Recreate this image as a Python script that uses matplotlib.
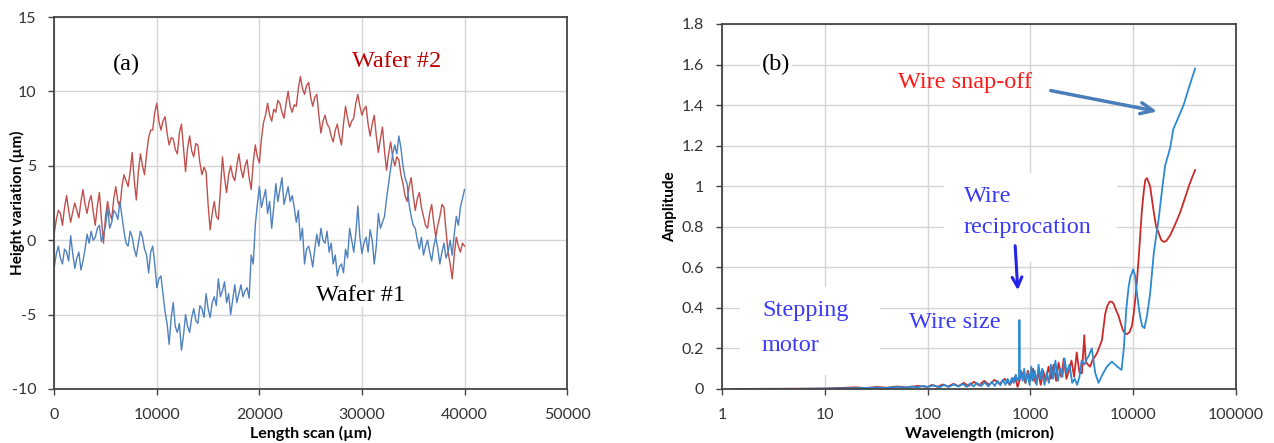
import matplotlib
matplotlib.use('Agg')
import matplotlib.pyplot as plt
from matplotlib.patches import Rectangle
from matplotlib.ticker import FixedLocator, FuncFormatter, NullLocator
import numpy as np

plt.rcParams['axes.unicode_minus'] = False
plt.rcParams['font.family'] = ['Lato', 'DejaVu Sans']

# ---- panel (a): height profiles, sampled every 200 um ----
scan_step = 200
wafer2 = [0.5, 1.4, 2.0, 1.8, 1.0, 2.2, 3.0, 2.0, 1.2, 1.9, 2.5, 2.0, 1.5, 2.6, 3.4, 2.4,
          1.8, 2.6, 3.0, 1.9, 1.0, 2.3, 3.2, 1.4, -0.2, 1.6, 2.6, 1.8, 1.4, 2.8, 3.6, 2.6,
          2.2, 3.6, 4.4, 4.0, 3.6, 4.6, 5.9, 4.0, 2.7, 4.6, 5.8, 5.0, 4.4, 5.8, 6.9, 7.4,
          7.4, 8.6, 9.2, 8.0, 7.4, 8.0, 8.3, 7.2, 6.4, 6.9, 6.8, 6.1, 5.8, 7.2, 7.8, 6.2,
          4.6, 6.2, 7.0, 6.0, 5.6, 6.5, 6.4, 5.2, 4.4, 4.9, 4.6, 2.4, 0.7, 1.8, 2.6, 1.6,
          1.4, 3.4, 5.6, 4.2, 3.2, 4.4, 5.0, 4.3, 4.0, 5.0, 5.8, 4.8, 4.2, 5.0, 5.4, 4.2,
          3.4, 5.2, 6.4, 5.6, 5.2, 6.8, 7.9, 8.4, 9.2, 8.4, 8.0, 8.8, 8.6, 9.4, 9.2, 8.6,
          8.2, 9.2, 10.0, 9.0, 8.6, 9.1, 9.0, 10.2, 11.0, 10.2, 9.8, 10.4, 10.6, 9.6, 9.0, 9.6,
          9.8, 8.4, 7.2, 8.0, 8.4, 7.8, 7.6, 7.0, 6.6, 7.4, 7.8, 7.0, 6.4, 7.8, 9.0, 8.2,
          7.6, 8.0, 8.2, 9.2, 9.8, 9.0, 8.4, 8.8, 9.0, 7.8, 7.0, 7.8, 8.4, 7.0, 5.9, 6.8,
          7.6, 6.0, 4.7, 5.8, 6.6, 5.6, 5.0, 5.6, 5.4, 4.4, 3.8, 3.0, 2.6, 3.6, 4.2, 3.0,
          2.0, 2.8, 3.2, 2.2, 1.6, 1.0, 0.8, 1.8, 2.4, 1.2, 0.2, 1.0, 1.6, 2.4, 2.2, 0.6,
          -0.8, -1.6, -2.6, -1.0, 0.2, -0.4, -0.8, -0.2, -0.4]
wafer1 = [-1.8, -0.9, -0.4, -1.2, -1.6, -0.6, -0.8, -1.4, 0.3, -0.9, -1.9, -1.2, -0.8, -2.0,
          -1.4, -0.6, 0.4, -0.2, 0.6, 0.0, 0.2, 0.8, 1.0, -0.1, 0.4, 1.0, 2.2, 0.8, 1.2, 2.0,
          1.8, 1.4, 2.6, 1.6, 0.6, -0.2, -0.4, 0.6, 0.2, -0.6, -1.1, -0.2, 0.6, 0.2, -0.6,
          -1.0, -2.2, -0.8, -0.4, -1.6, -3.2, -2.6, -2.4, -3.6, -4.8, -5.6, -7.0, -5.2, -4.2,
          -5.8, -6.2, -5.6, -7.4, -6.4, -5.0, -5.8, -6.2, -5.2, -4.6, -5.4, -5.6, -4.4, -4.6,
          -5.2, -3.6, -4.6, -5.2, -4.2, -3.8, -4.4, -2.6, -3.8, -3.4, -2.8, -4.2, -3.6, -5.0,
          -4.0, -3.0, -4.2, -3.6, -3.0, -3.8, -3.4, -3.2, -3.9, -1.0, -1.6, 1.0, 2.4, 3.6,
          2.2, 2.8, 3.4, 1.8, 2.6, 0.8, 2.2, 3.8, 2.6, 3.4, 4.2, 2.4, 3.0, 3.6, 2.6, 3.0, 2.2,
          1.2, 2.0, 0.0, 0.8, -1.6, -0.6, -0.4, -1.0, -1.8, -0.6, 0.4, -0.4, 0.8, 0.0, -0.2,
          0.6, -0.8, -0.2, -1.6, -1.0, -2.4, -1.8, -1.6, -2.2, -0.6, -1.2, 0.8, 0.0, -0.8,
          0.4, 2.3, 0.2, -0.9, -0.2, 0.2, -0.8, 0.7, 0.0, -1.6, -0.4, 1.8, 0.8, 1.2, 1.6, 2.8,
          3.8, 4.8, 5.8, 6.4, 5.8, 7.0, 6.2, 5.0, 4.2, 3.8, 2.4, 1.6, 1.0, 0.8, 0.0, -0.6,
          0.2, -1.0, -0.4, 0.0, -0.8, -1.4, -0.4, 0.2, -0.6, -1.6, -0.8, -0.2, -1.2, -0.8,
          0.0, -1.0, 0.4, 1.6, 1.0, 2.2, 2.8, 3.4]
scan_x = np.arange(len(wafer2)) * scan_step

# ---- panel (b): amplitude spectra ----
wl_blue = [1.3, 5, 10, 20, 30, 40, 50, 60, 70, 80, 90, 100, 115, 130, 145, 160, 180, 200,
           220, 240, 260, 280, 300, 330, 360, 390, 420, 450, 480, 510, 540, 570, 600, 630,
           660, 690, 720, 750, 775, 782, 790, 810, 840, 870, 900, 940, 980, 1020, 1060,
           1100, 1150, 1200, 1250, 1300, 1370, 1440, 1510, 1580, 1660, 1750, 1850, 1950,
           2050, 2150, 2250, 2400, 2550, 2700, 2850, 3000, 3150, 3350, 3550, 3670, 3950,
           4280, 4600, 5000, 5550, 6200, 7000, 7700, 8100, 8550, 9000, 9350, 10000, 10400,
           10700, 11200, 11650, 12200, 12850, 13600, 14600, 15850, 17000, 17600, 19050,
           20400, 22900, 24500, 30900, 35000, 40000]
amp_blue = [0, 0.0, 0.002, 0.004, 0.006, 0.005, 0.01, 0.006, 0.012, 0.008, 0.015, 0.01,
            0.018, 0.008, 0.02, 0.01, 0.022, 0.012, 0.025, 0.01, 0.028, 0.012, 0.03, 0.014,
            0.032, 0.012, 0.035, 0.015, 0.04, 0.018, 0.045, 0.02, 0.05, 0.022, 0.055, 0.03,
            0.07, 0.04, 0.06, 0.34, 0.05, 0.09, 0.04, 0.1, 0.03, 0.08, 0.02, 0.11, 0.04,
            0.09, 0.02, 0.12, 0.05, 0.1, 0.02, 0.08, 0.03, 0.12, 0.05, 0.14, 0.04, 0.1,
            0.06, 0.15, 0.08, 0.12, 0.03, 0.05, 0.02, 0.06, 0.14, 0.12, 0.15, 0.16, 0.2,
            0.077, 0.03, 0.07, 0.11, 0.135, 0.11, 0.094, 0.2, 0.39, 0.5, 0.55, 0.59, 0.56,
            0.5, 0.42, 0.36, 0.31, 0.30, 0.36, 0.47, 0.67, 0.78, 0.83, 0.98,
            1.10, 1.19, 1.28, 1.40, 1.49, 1.58]

wl_red = [1.3, 10, 20, 25, 32, 40, 50, 63, 80, 100, 110, 125, 140, 158, 178, 200, 224, 251,
          282, 316, 355, 398, 447, 501, 562, 631, 708, 750, 794, 840, 891, 944, 1000, 1060,
          1120, 1190, 1260, 1330, 1410, 1500, 1580, 1680, 1780, 1880, 2000, 2110, 2240,
          2370, 2510, 2660, 2820, 3000, 3170, 3340, 3450, 3540, 3810, 4000, 4430, 4960,
          5340, 5600, 5890, 6200, 6440, 6800, 7200, 7600, 7940, 8300, 8680, 9200, 9700,
          10100, 10450, 10850, 11270, 11700, 12140, 12700, 13100, 13600, 14600, 15760,
          16700, 17650, 18700, 19800, 21000, 23000, 25500, 28600, 31800, 35300, 40000]
amp_red = [0, 0.002, 0.008, 0.004, 0.01, 0.006, 0.012, 0.008, 0.015, 0.01, 0.02, 0.01,
           0.022, 0.012, 0.025, 0.014, 0.03, 0.015, 0.035, 0.018, 0.04, 0.02, 0.045, 0.025,
           0.05, 0.02, 0.06, 0.01, 0.05, 0.08, 0.03, 0.09, 0.04, 0.1, 0.03, 0.08, 0.02,
           0.09, 0.04, 0.11, 0.05, 0.12, 0.04, 0.13, 0.06, 0.15, 0.05, 0.09, 0.14, 0.06,
           0.18, 0.08, 0.077, 0.265, 0.14, 0.126, 0.11, 0.14, 0.175, 0.24,
           0.37, 0.41, 0.43, 0.43, 0.42, 0.39, 0.36, 0.32, 0.29, 0.275, 0.27, 0.28, 0.31,
           0.37, 0.44, 0.53, 0.635, 0.76, 0.88, 0.98, 1.03, 1.04, 1.0, 0.88,
           0.80, 0.77, 0.735, 0.725, 0.73, 0.76, 0.81, 0.87, 0.94, 1.01, 1.08]

tick_col = '#333333'
grid_col = '#d4d4d4'
spine_col = '#444444'
serif = ['Liberation Serif', 'DejaVu Serif']
note_blue = '#3a3af5'

fig = plt.figure(figsize=(12.74, 4.43), dpi=100)
ax1 = fig.add_axes([0.0426, 0.122, 0.4025, 0.8396])
ax2 = fig.add_axes([0.5667, 0.122, 0.4035, 0.8239])

for ax in (ax1, ax2):
    ax.set_axisbelow(True)
    ax.grid(True, color=grid_col, linewidth=1.0)
    for s in ax.spines.values():
        s.set_color(spine_col)
        s.set_linewidth(1.3)
    ax.tick_params(direction='out', length=4, width=1, color=spine_col,
                   labelsize=11.5, labelcolor=tick_col)
    ax.tick_params(axis='y', pad=9)
    ax.tick_params(axis='x', pad=10)

# panel (a)
ax1.plot(scan_x, wafer2, color='#c0504d', linewidth=1.0)
ax1.plot(scan_x, wafer1, color='#4f81bd', linewidth=1.0)
ax1.set_xlim(0, 50000)
ax1.set_ylim(-10, 15)
ax1.set_xticks(range(0, 50001, 10000))
ax1.set_yticks(range(-10, 16, 5))
ax1.set_xlabel('Length scan (µm)', fontsize=11.5, fontweight='bold')
ax1.set_ylabel('Height variation (µm)', fontsize=11, fontweight='bold')
ax1.xaxis.set_label_coords(0.5, -0.10)
ax1.yaxis.set_label_coords(-0.057, 0.5)
ax1.text(7080, 11.8, '(a)', fontsize=17.5, family=serif, ha='center', va='center')
ax1.text(33370, 12.0, 'Wafer #2', fontsize=17.5, family=serif, color='#c00000',
         ha='center', va='center')
ax1.text(29870, -3.7, 'Wafer #1', fontsize=17.5, family=serif, color='black',
         ha='center', va='center',
         bbox=dict(facecolor='white', edgecolor='none', pad=1))

# panel (b)
ax2.set_xscale('log')
ax2.plot(wl_red, amp_red, color='#cc2a2a', linewidth=1.3)
ax2.plot(wl_blue, amp_blue, color='#2b8ad2', linewidth=1.3)
ax2.set_xlim(1, 100000)
ax2.set_ylim(0, 1.8)
ax2.xaxis.set_major_locator(FixedLocator([1, 10, 100, 1000, 10000, 100000]))
ax2.xaxis.set_minor_locator(NullLocator())
ax2.xaxis.set_major_formatter(FuncFormatter(lambda v, p: '%d' % v))
ax2.set_yticks(np.arange(0, 1.81, 0.2))
ax2.yaxis.set_major_formatter(FuncFormatter(lambda v, p: '%g' % round(v, 1)))
ax2.set_xlabel('Wavelength (micron)', fontsize=11.5, fontweight='bold')
ax2.set_ylabel('Amplitude', fontsize=11, fontweight='bold')
ax2.xaxis.set_label_coords(0.5, -0.102)
ax2.yaxis.set_label_coords(-0.0875, 0.5)

# white text boxes that hide the grid
ax2.add_patch(Rectangle((0.035, 0.038), 0.272, 0.241, transform=ax2.transAxes,
                        facecolor='white', edgecolor='none', zorder=1))
ax2.add_patch(Rectangle((0.432, 0.348), 0.336, 0.244, transform=ax2.transAxes,
                        facecolor='white', edgecolor='none', zorder=1))

ax2.text(3.35, 1.60, '(b)', fontsize=17.5, family=serif, ha='center', va='center',
         bbox=dict(facecolor='white', edgecolor='none', pad=1))
ax2.text(231, 1.51, 'Wire snap-off', fontsize=17.5, family=serif, color='#ff1a1a',
         ha='center', va='center')
ax2.annotate('', xy=(18200, 1.366), xytext=(1483, 1.474),
             arrowprops=dict(arrowstyle='->,head_length=0.9,head_width=0.4',
                             color='#4a7ebb', linewidth=2.5))
ax2.text(226, 0.947, 'Wire', fontsize=17.5, family=serif, color=note_blue,
         ha='left', va='center', zorder=3)
ax2.text(226, 0.795, 'reciprocation', fontsize=17.5, family=serif, color=note_blue,
         ha='left', va='center', zorder=3)
ax2.annotate('', xy=(757, 0.473), xytext=(708, 0.72),
             arrowprops=dict(arrowstyle='->,head_length=0.7,head_width=0.35',
                             color='#2424e6', linewidth=2.2))
ax2.text(185, 0.33, 'Wire size', fontsize=17.5, family=serif, color=note_blue,
         ha='center', va='center')
ax2.text(2.45, 0.385, 'Stepping', fontsize=17.5, family=serif, color=note_blue,
         ha='left', va='center', zorder=3)
ax2.text(2.45, 0.215, 'motor', fontsize=17.5, family=serif, color=note_blue,
         ha='left', va='center', zorder=3)

fig.savefig('out.png', dpi=100)
